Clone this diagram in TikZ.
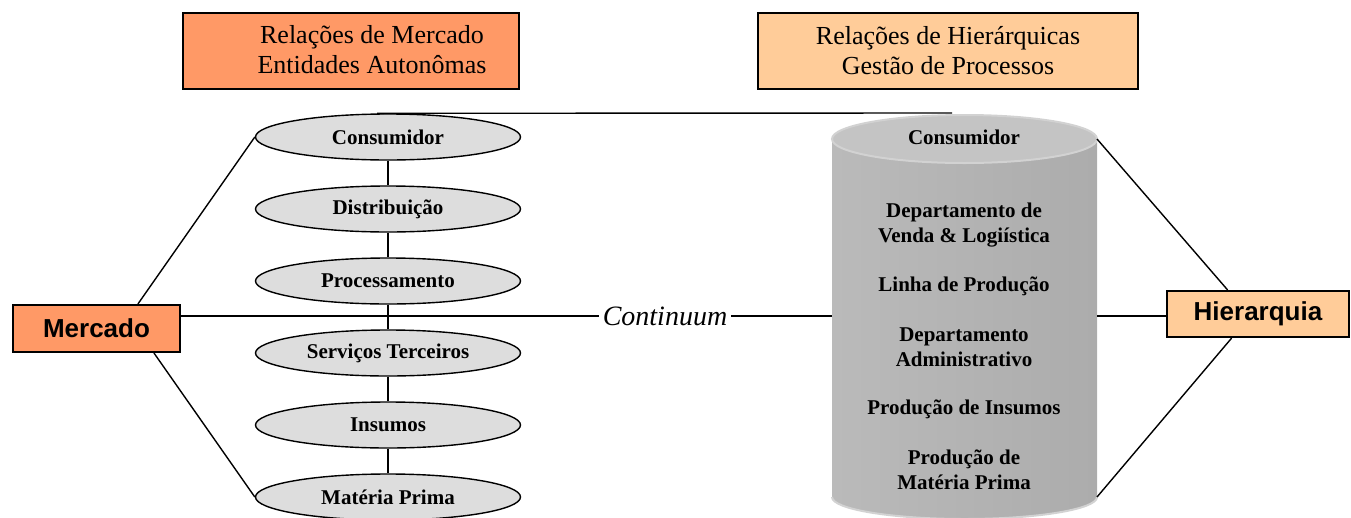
\documentclass[tikz,border=0pt]{standalone}
\usepackage{fontspec}
\setmainfont{Liberation Serif}
\newfontfamily\arialfont{Liberation Sans}
\usetikzlibrary{shapes.geometric,calc}
\definecolor{mktorange}{HTML}{FF9966}
\definecolor{hierpeach}{HTML}{FFCC99}
\definecolor{ovalgray}{HTML}{DDDDDD}
\definecolor{cylleft}{HTML}{BABABA}
\definecolor{cylmid}{HTML}{B3B3B3}
\definecolor{cylright}{HTML}{ACACAC}
\definecolor{cyltop}{HTML}{C4C4C4}
\definecolor{cylrim}{HTML}{D2D2D2}
\begin{document}
\begin{tikzpicture}[x=1pt,y=-1pt,
  oval/.style={ellipse, draw, line width=1.4pt, fill=ovalgray,
    minimum width=265pt, minimum height=46pt, inner sep=0pt,
    font=\fontsize{21}{25}\selectfont\bfseries},
  headbox/.style={draw, line width=2pt, minimum height=76pt},
  headtext/.style={align=center, inner sep=0pt, font=\fontsize{26}{30}\selectfont},
  endbox/.style={draw, line width=2pt, inner sep=0pt,
    font=\arialfont\bfseries\fontsize{26}{30}\selectfont},
  cyltext/.style={align=center, inner sep=0pt,
    font=\fontsize{21}{25}\selectfont\bfseries},
  link/.style={line width=1.4pt}]
\useasboundingbox (0,0) rectangle (1351,517);

% headings
\node[headbox, fill=mktorange, minimum width=336pt] (mkthead) at (351,51) {};
\node[headtext] (mkttext) at (372,50) {Relações de Mercado\\Entidades Autonômas};
\node[headbox, fill=hierpeach, minimum width=380pt, headtext] (hierhead) at (948,51)
  {Relações de Hierárquicas\\Gestão de Processos};

% market chain
\node[oval] (cons) at (388,137) {Consumidor};
\node[oval] (dist) at (388,209) {Distribuição};
\node[oval] (proc) at (388,281) {Processamento};
\node[oval] (serv) at (388,353) {Serviços Terceiros};
\node[oval] (insu) at (388,425) {Insumos};
\node[oval] (mat)  at (388,497) {Matéria Prima};
\draw[link] (cons.south) -- (dist.north);
\draw[link] (dist.south) -- (proc.north);
\draw[link] (proc.south) -- (serv.north);
\draw[link] (serv.south) -- (insu.north);
\draw[link] (insu.south) -- (mat.north);

% hierarchy cylinder
\shade[left color=cylleft, middle color=cylmid, right color=cylright]
  (832,139) -- (832,497) arc[start angle=180, end angle=0, x radius=132.5, y radius=22]
  -- (1097,139) arc[start angle=360, end angle=180, x radius=132.5, y radius=24] -- cycle;
\draw[cylrim, line width=2pt] (832,497) arc[start angle=180, end angle=0, x radius=132.5, y radius=22];
\draw[cylrim, line width=2pt, fill=cyltop] (964.5,139) ellipse[x radius=132.5, y radius=24];
\coordinate (cylTR) at (1097,139);
\coordinate (cylBR) at (1097,497);
\coordinate (cylL) at (832,316);
\coordinate (cylR) at (1097,316);
\coordinate (topEnd) at (952,113);

\node[cyltext] (hcons) at (964,137) {Consumidor};
\node[cyltext] (hvend) at (964,225) {Departamento de\\Venda \& Logiística};
\node[cyltext] (hlin)  at (964,286) {Linha de Produção};
\node[cyltext] (hadm)  at (964,347) {Departamento\\Administrativo};
\node[cyltext] (hins)  at (964,409) {Produção de Insumos};
\node[cyltext] (hmat)  at (964,470) {Produção de\\Matéria Prima};

% end points of the continuum
\node[endbox, fill=mktorange, minimum width=167pt, minimum height=47pt] (merc) at (96.5,328.5) {Mercado};
\node[endbox, fill=hierpeach, minimum width=182pt, minimum height=46pt] (hier) at (1258,314) {Hierarquia};
\node[inner sep=4pt, font=\itshape\fontsize{28}{32}\selectfont] (cont) at (665,316) {Continuum};

\draw[link] (merc.east |- cont) -- (cont.west);
\draw[link] (cont.east) -- (cylL);
\draw[link] (cylR) -- (hier.west |- cylR);
\draw[link] ($(merc.north west)!0.745!(merc.north east)$) -- (cons.west);
\draw[link] ($(merc.south west)!0.84!(merc.south east)$) -- (mat.west);
\draw[link] ($(hier.north west)!0.335!(hier.north east)$) -- (cylTR);
\draw[link] ($(hier.south west)!0.357!(hier.south east)$) -- (cylBR);
\draw[link] ([xshift=-11pt]cons.north) -- (topEnd);
\end{tikzpicture}
\end{document}
